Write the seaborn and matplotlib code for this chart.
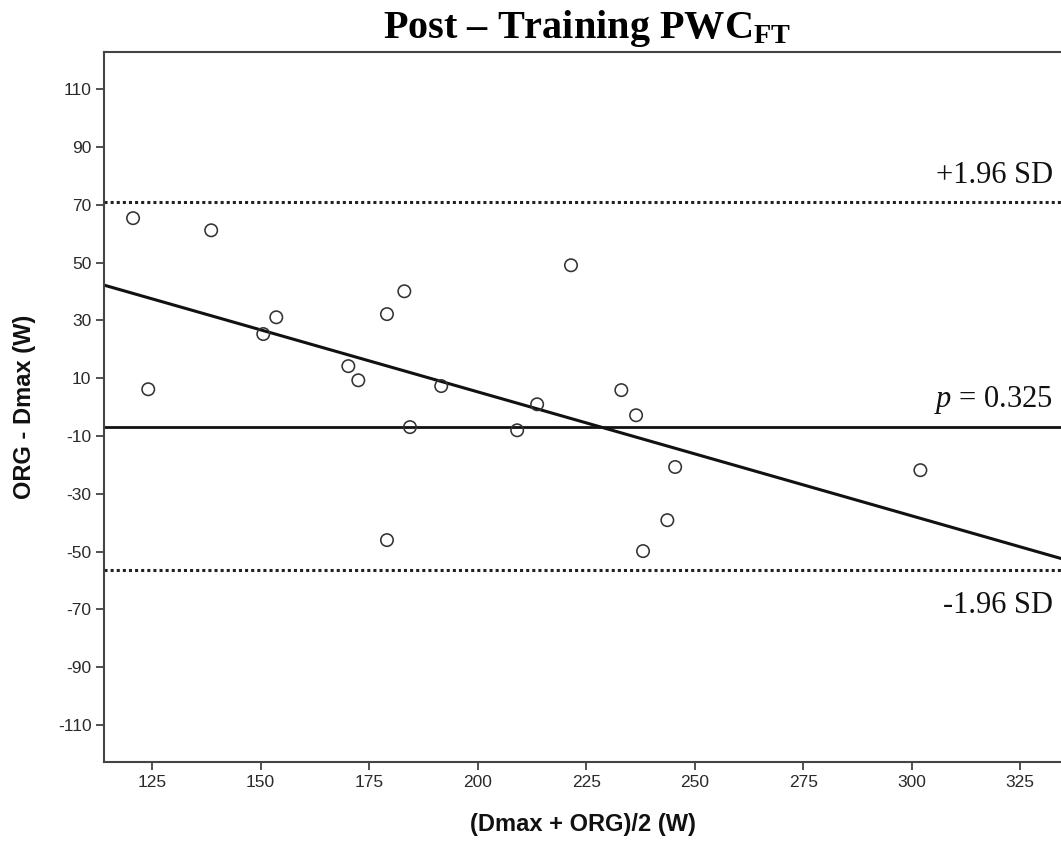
import matplotlib
matplotlib.use("Agg")
import matplotlib.pyplot as plt
import seaborn as sns
import pandas as pd

# Bland-Altman values
mean_w = [120.6, 138.6, 124.1, 150.6, 153.6, 170.2, 172.5, 179.1, 183.1, 179.1, 184.4,
          191.6, 209.1, 213.7, 221.5, 233.1, 236.5, 238.1, 243.7, 245.5, 302.0]
diff_w = [65.4, 61.2, 6.2, 25.3, 31.1, 14.2, 9.3, 32.2, 40.1, -46.0, -6.9,
          7.3, -8.0, 1.0, 49.1, 5.9, -2.8, -49.8, -39.1, -20.7, -21.8]
bias = -7.0
upper_loa = 71.0
lower_loa = -56.5
fit_intercept = 91.1
fit_slope = -0.429
x_ticks = [125, 150, 175, 200, 225, 250, 275, 300, 325]
y_ticks = [110, 90, 70, 50, 30, 10, -10, -30, -50, -70, -90, -110]

sns.set_theme(style="white")
plt.rcParams['font.family'] = ['Liberation Sans', 'DejaVu Sans']
plt.rcParams['axes.unicode_minus'] = False
plt.rcParams['mathtext.fontset'] = 'custom'
plt.rcParams['mathtext.rm'] = 'Liberation Serif'
plt.rcParams['mathtext.it'] = 'Liberation Serif:italic'
plt.rcParams['mathtext.bf'] = 'Liberation Serif:bold'

df = pd.DataFrame({'mean': mean_w, 'diff': diff_w})

fig = plt.figure(figsize=(10.61, 8.43), dpi=100)
ax = fig.add_axes([0.098, 0.096, 0.902, 0.842])

sns.scatterplot(data=df, x='mean', y='diff', ax=ax, marker='o', s=80,
                facecolor='none', edgecolor='#333333', linewidth=1.15, zorder=3)

ax.axhline(upper_loa, color='#222222', lw=2.2, ls=(0, (1, 1)))
ax.axhline(lower_loa, color='#222222', lw=2.2, ls=(0, (1, 1)))
ax.axhline(bias, color='#111111', lw=2.0)
ax.axline((0, fit_intercept), slope=fit_slope, color='#111111', lw=2.2)

ax.set_xlim(113.9, 334.4)
ax.set_ylim(-122.8, 122.8)
ax.set_xticks(x_ticks)
ax.set_yticks(y_ticks)
ax.tick_params(axis='both', direction='out', length=6, width=1.2, color='#333333',
               labelsize=12.5, labelcolor='#2a2a2a', left=True, bottom=True, pad=3)

for side in ['left', 'bottom', 'top']:
    ax.spines[side].set_color('#444444')
    ax.spines[side].set_linewidth(1.5)
ax.spines['right'].set_visible(False)

ax.set_xlabel('(Dmax + ORG)/2 (W)', fontsize=17, fontweight='bold', labelpad=17, color='#111111')
ax.set_ylabel('ORG - Dmax (W)', fontsize=17, fontweight='bold', labelpad=16, color='#111111')

serif = ['Liberation Serif', 'DejaVu Serif']
ax.text(0.992, upper_loa + 4, '+1.96 SD', transform=ax.get_yaxis_transform(),
        ha='right', va='bottom', fontsize=22, family=serif, color='#111111')
ax.text(0.992, bias + 4, r'$p$ = 0.325', transform=ax.get_yaxis_transform(),
        ha='right', va='bottom', fontsize=22, family=serif, color='#111111')
ax.text(0.992, lower_loa - 7, '-1.96 SD', transform=ax.get_yaxis_transform(),
        ha='right', va='top', fontsize=22, family=serif, color='#111111')

fig.text(0.5537, 0.9546, r'Post – Training PWC$_{\mathbf{FT}}$', ha='center', va='baseline',
         fontsize=29, fontweight='bold', family=serif, color='black')

fig.savefig('out.png', dpi=100)
